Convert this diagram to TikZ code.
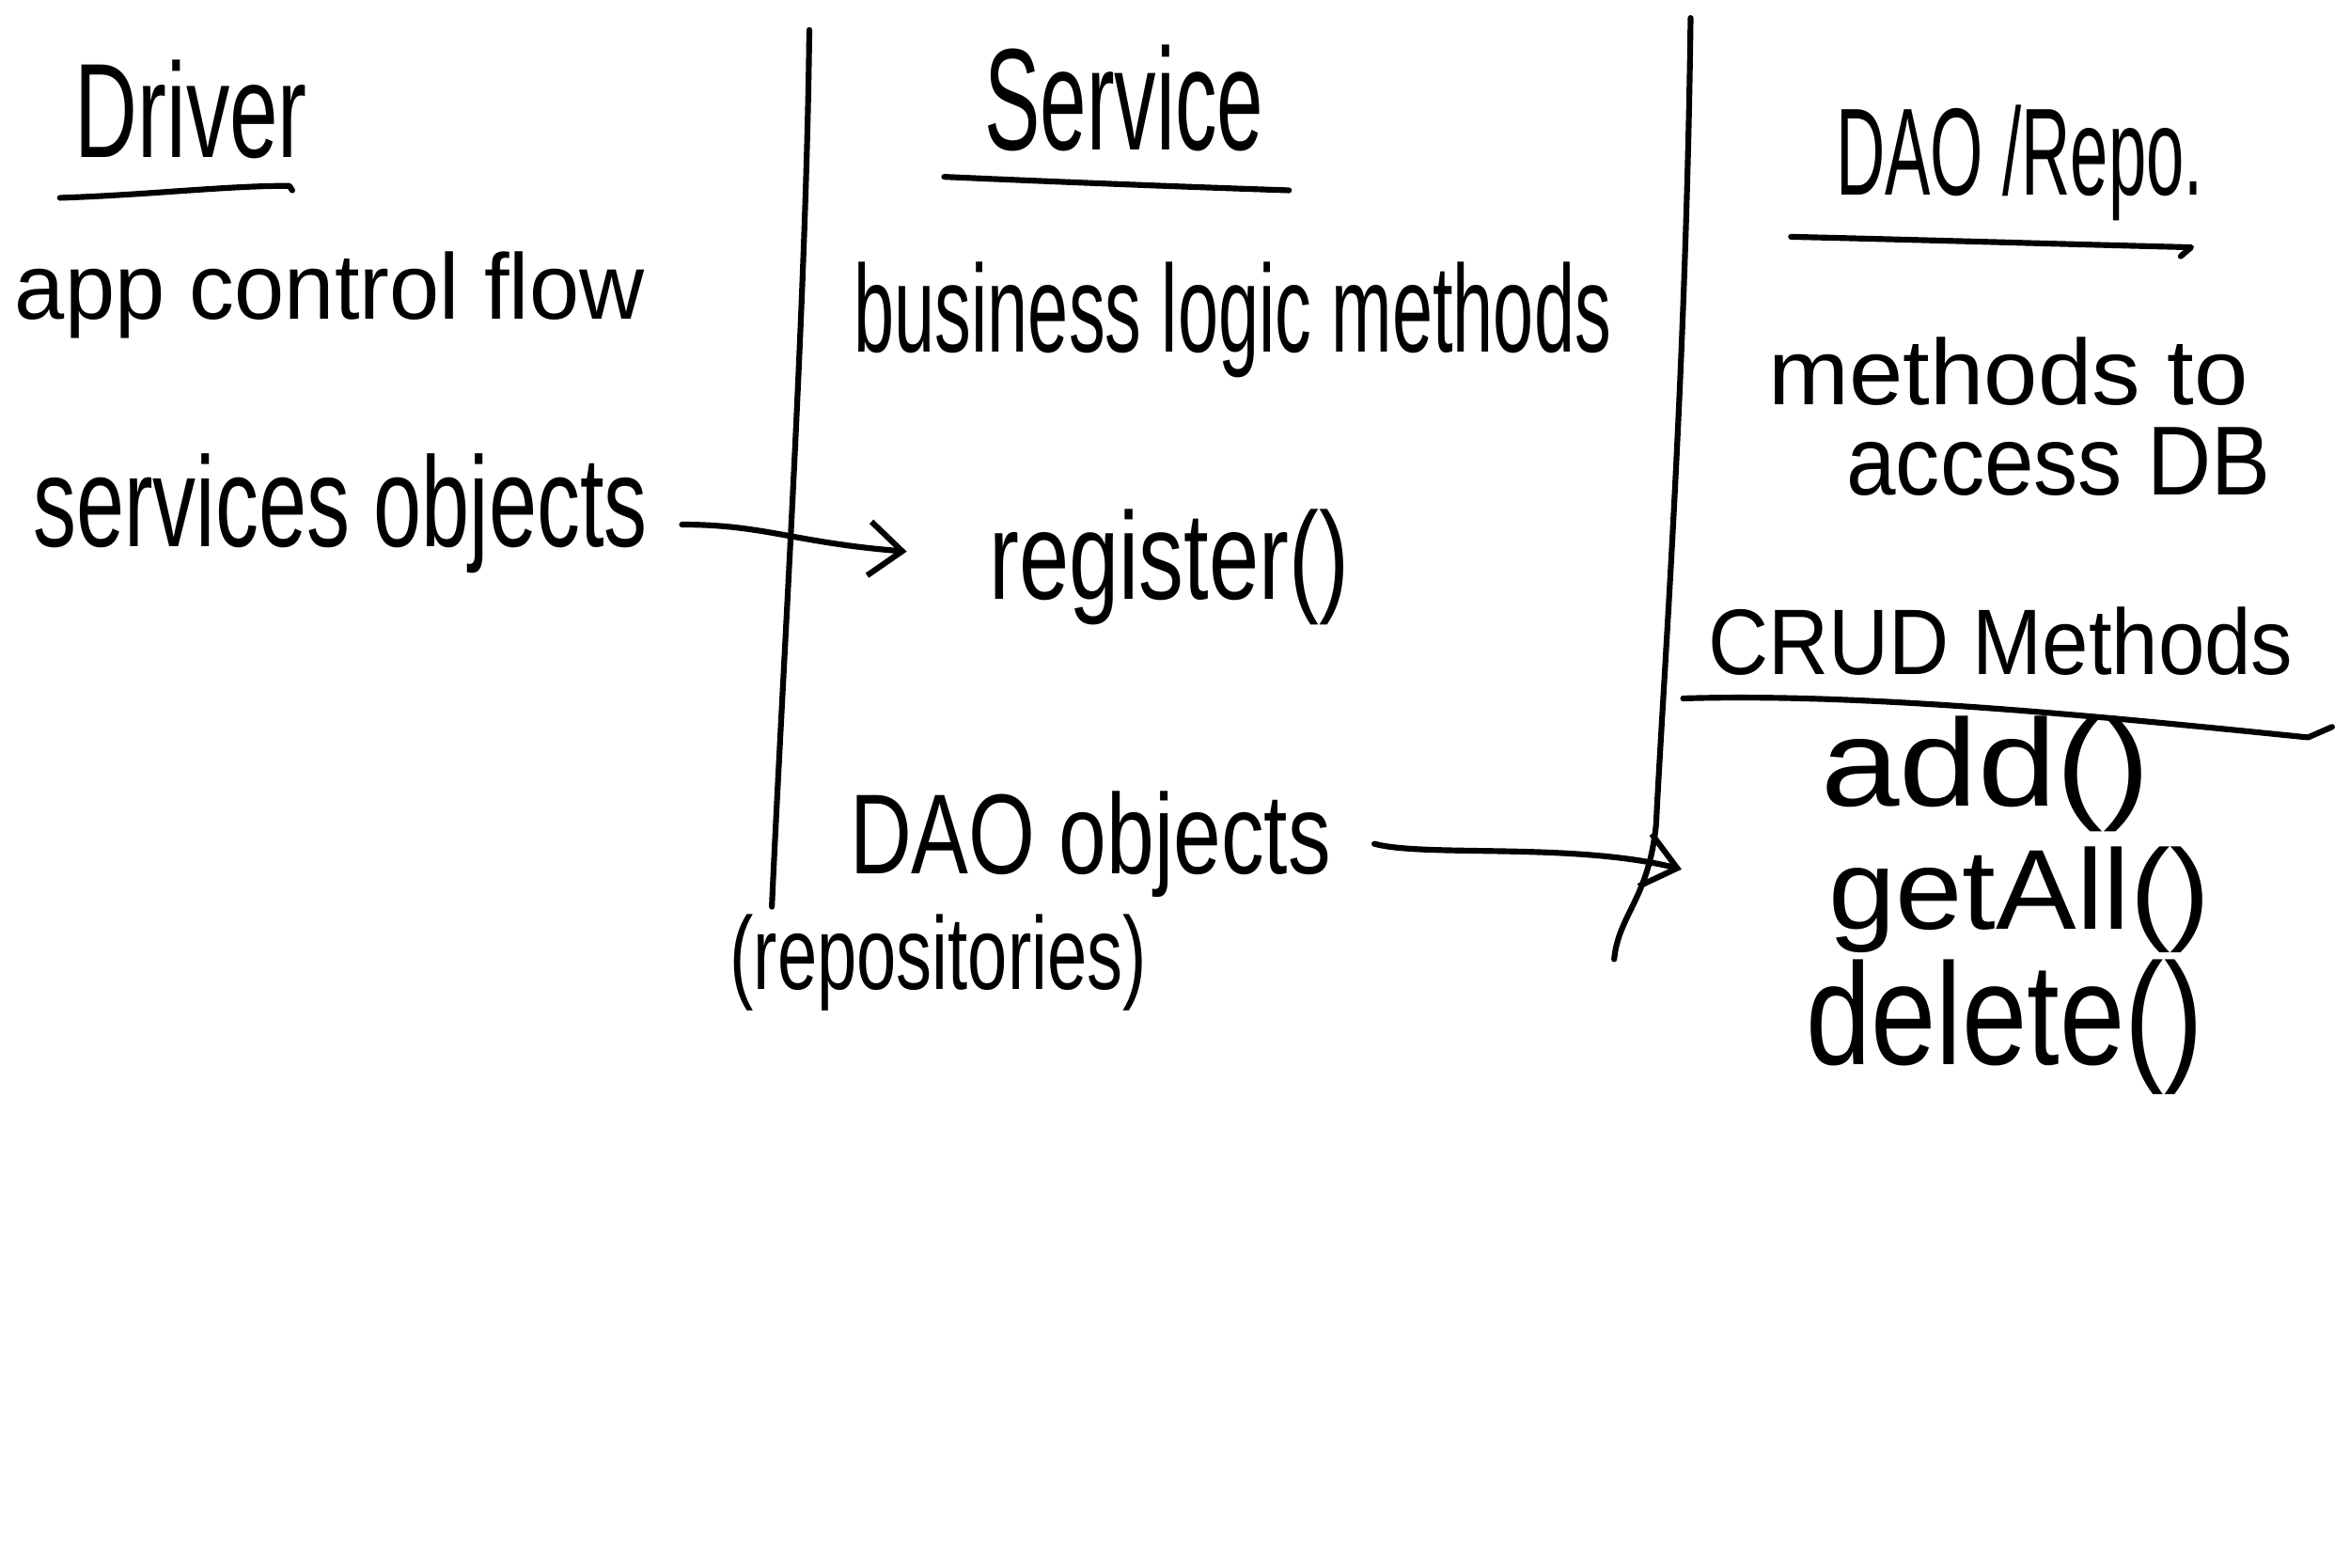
\documentclass[tikz,border=0pt]{standalone}
\usepackage{fontspec}
\setmainfont{Liberation Sans}
\usepackage{graphicx}
\usetikzlibrary{arrows.meta}
\newcommand{\hw}[3]{\resizebox{#1cm}{#2cm}{#3}}
\tikzset{
  txt/.style={anchor=base west, inner sep=0pt, outer sep=0pt, text=black},
  pen/.style={line width=1.1pt, line cap=round, line join=round, black},
  arr/.style={pen, -{Straight Barb[length=2.2mm, width=3.6mm, line width=1.1pt]}}
}
\begin{document}
\begin{tikzpicture}
\fill[white] (0,0) rectangle (15.68,-10.46);
\useasboundingbox (0,0) rectangle (15.68,-10.46);

% Driver column
\node[txt] (drv) at (0.50,-1.05) {\hw{1.55}{0.65}{Driver}};
\node[txt] (acf) at (0.10,-2.13) {\hw{4.20}{0.45}{app control flow}};
\node[txt] (svo) at (0.22,-3.65) {\hw{4.10}{0.62}{services objects}};

% Service column
\node[txt] (svc) at (6.57,-1.00) {\hw{1.86}{0.70}{Service}};
\node[txt] (blm) at (5.70,-2.35) {\hw{5.05}{0.60}{business logic methods}};
\node[txt] (reg) at (6.60,-4.00) {\hw{2.40}{0.60}{register()}};
\node[txt] (dao) at (5.67,-5.83) {\hw{3.21}{0.55}{DAO objects}};
\node[txt] (rep) at (4.87,-6.60) {\hw{2.78}{0.50}{(repositories)}};

% DAO / Repo column
\node[txt] (drp) at (12.25,-1.30) {\hw{2.45}{0.60}{DAO /Repo.}};
\node[txt] (mt)  at (11.80,-2.70) {\hw{3.20}{0.45}{methods to}};
\node[txt] (adb) at (12.32,-3.30) {\hw{2.83}{0.45}{access DB}};
\node[txt] (crud) at (11.40,-4.50) {\hw{3.90}{0.45}{CRUD Methods}};
\node[txt] (add) at (12.15,-5.38) {\hw{2.20}{0.60}{add()}};
\node[txt] (gal) at (12.20,-6.20) {\hw{2.55}{0.55}{getAll()}};
\node[txt] (del) at (12.05,-7.10) {\hw{2.65}{0.70}{delete()}};

% underlines
\draw[pen] (0.40,-1.32) .. controls (1.00,-1.30) and (1.50,-1.24) .. (1.93,-1.24) -- (1.95,-1.27);
\draw[pen] (6.30,-1.18) .. controls (7.20,-1.22) and (8.00,-1.25) .. (8.60,-1.27);
\draw[pen] (11.95,-1.58) .. controls (12.80,-1.60) and (13.80,-1.63) .. (14.62,-1.65) -- (14.55,-1.71);
\draw[pen] (11.23,-4.66) .. controls (12.50,-4.62) and (14.20,-4.80) .. (15.40,-4.92) -- (15.56,-4.85);

% column dividers
\draw[pen] (5.40,-0.20) .. controls (5.38,-2.00) and (5.22,-4.50) .. (5.15,-6.05);
\draw[pen] (11.28,-0.12) .. controls (11.25,-2.50) and (11.10,-4.50) .. (11.05,-5.50) .. controls (11.00,-6.00) and (10.80,-6.10) .. (10.77,-6.40);

% arrows
\coordinate (a1s) at (4.55,-3.50);
\coordinate (a1e) at (6.05,-3.68);
\coordinate (a2s) at (9.17,-5.63);
\coordinate (a2e) at (11.22,-5.80);
\draw[arr] (a1s) .. controls (5.10,-3.50) and (5.30,-3.62) .. (a1e);
\draw[arr] (a2s) .. controls (9.50,-5.72) and (10.50,-5.62) .. (a2e);
\end{tikzpicture}
\end{document}
